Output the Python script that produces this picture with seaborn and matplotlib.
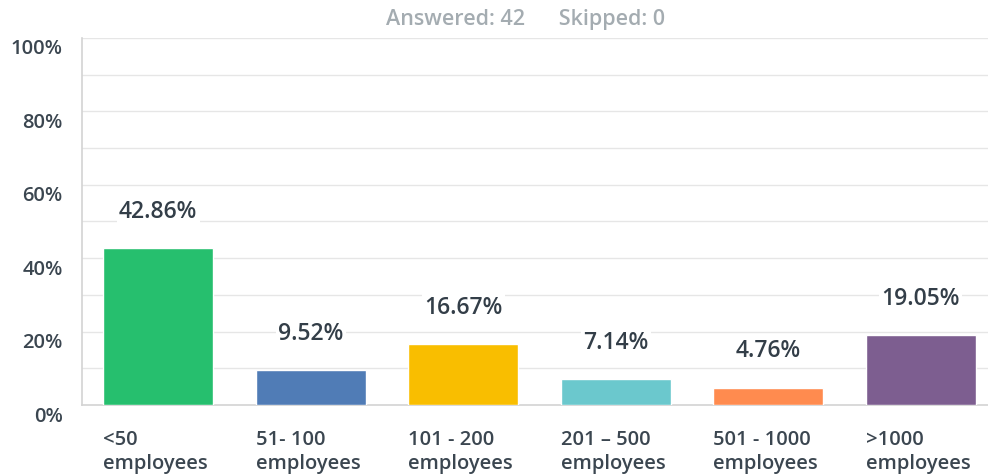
import numpy as np
import matplotlib
matplotlib.use('Agg')
import matplotlib.pyplot as plt
import matplotlib.transforms as mtransforms
import seaborn as sns

categories = ['<50\nemployees', '51- 100\nemployees', '101 - 200\nemployees',
              '201 – 500\nemployees', '501 - 1000\nemployees', '>1000\nemployees']
values = [42.86, 9.52, 16.67, 7.14, 4.76, 19.05]
colors = ['#26BF6E', '#507CB6', '#F9BE00', '#6BC8CD', '#FF8B4F', '#7D5E90']
y_ticks = [0, 20, 40, 60, 80, 100]
y_grid = list(range(10, 101, 10))

sns.set_theme(style='white')
plt.rcParams['font.family'] = ['Open Sans', 'DejaVu Sans']

W, H = 988, 476
fig = plt.figure(figsize=(W / 100, H / 100), dpi=100)
ax = fig.add_axes([82 / W, 1 - 405 / H, (988 - 82) / W, (405 - 38) / H])

bw = 0.72
sns.barplot(x=categories, y=values, hue=categories, palette=colors,
            width=bw, saturation=1, legend=False, ax=ax, zorder=3)

ax.set_xlim(-0.5, 5.44)
ax.set_ylim(0, 100)
for g in y_grid:
    ax.axhline(g, color='#e6e6e6', lw=1, zorder=1)

ax.set_yticks(y_ticks, [f'{t}%' for t in y_ticks])
ax.set_xticks(np.arange(len(categories)) - bw / 2, categories, ha='left',
              linespacing=1.3)
ax.tick_params(axis='y', length=0, pad=14, labelsize=14.5, labelcolor='#3b4650')
ax.tick_params(axis='x', length=0, pad=18, labelsize=14.5, labelcolor='#3b4650')
off = mtransforms.ScaledTranslation(0, -0.09, fig.dpi_scale_trans)
for lab in ax.get_yticklabels():
    lab.set_transform(lab.get_transform() + off)
    lab.set_fontweight('semibold')
for lab in ax.get_xticklabels():
    lab.set_fontweight('semibold')

ax.set_xlabel('')
ax.set_ylabel('')
for s in ['top', 'right']:
    ax.spines[s].set_visible(False)
for s in ['left', 'bottom']:
    ax.spines[s].set_color('#d3d3d3')
    ax.spines[s].set_linewidth(1.2)

for i, v in enumerate(values):
    ax.annotate(f'{v:.2f}%', (i, v), xytext=(0, 26), textcoords='offset points',
                ha='center', va='center', fontsize=16.5, fontweight='semibold',
                color='#333e48', zorder=4,
                bbox=dict(boxstyle='square,pad=0.1', fc='white', ec='none'))

fig.text(525 / W, 1 - 20 / H, 'Answered: 42      Skipped: 0', ha='center',
         va='center', fontsize=15.5, fontweight='semibold', color='#a4acb1')

fig.savefig('out.png', dpi=100)
